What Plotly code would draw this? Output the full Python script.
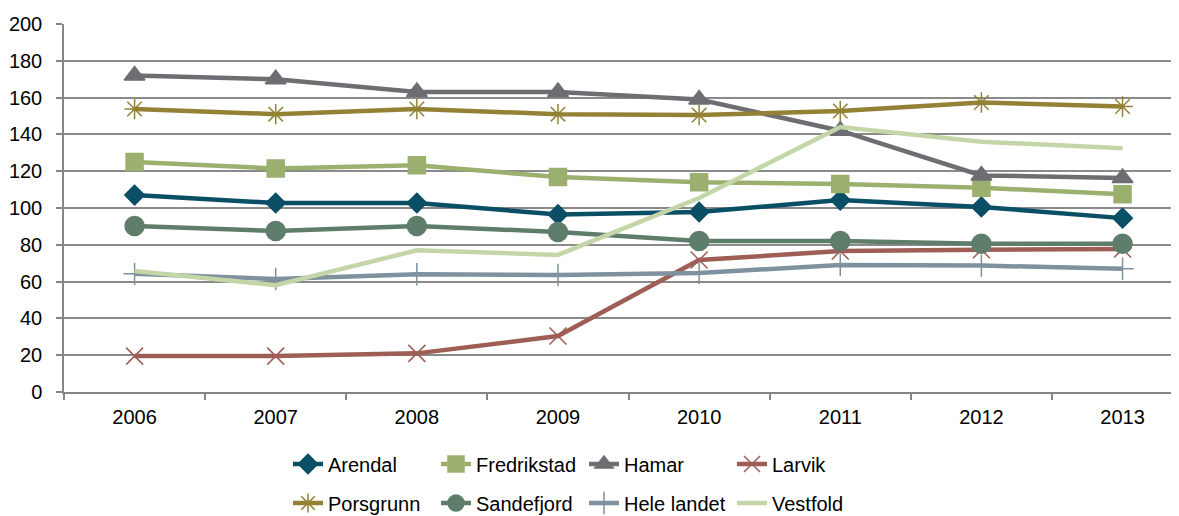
import plotly.graph_objects as go

years = ["2006", "2007", "2008", "2009", "2010", "2011", "2012", "2013"]
arendal = [107, 102.7, 102.7, 96.5, 97.8, 104.3, 100.6, 94.5]
fredrikstad = [125, 121.5, 123.2, 116.8, 114, 113, 111, 107.5]
hamar = [172, 170, 163, 163, 159, 142, 117.7, 116.3]
larvik = [19.5, 19.5, 21, 30.4, 71.7, 76.6, 77.3, 77.7]
porsgrunn = [153.8, 151, 153.8, 151, 150.5, 152.7, 157.3, 155.2]
sandefjord = [90.2, 87.5, 90.2, 87, 82, 82, 80.6, 80.6]
hele_landet = [64.2, 61.4, 64, 63.6, 64.7, 69, 68.7, 67]
vestfold = [65.8, 58, 77, 74.5, 105.4, 144, 136, 132.5]
yticks = [0, 20, 40, 60, 80, 100, 120, 140, 160, 180, 200]

series = [
    ("Arendal", arendal, "#0b4f66", "diamond", 15, "legend"),
    ("Fredrikstad", fredrikstad, "#9bb06f", "square", 17, "legend"),
    ("Hamar", hamar, "#6e6d72", "triangle-up", 18, "legend"),
    ("Larvik", larvik, "#9e5d55", "x-thin-open", 17, "legend"),
    ("Porsgrunn", porsgrunn, "#938235", "asterisk-open", 17, "legend2"),
    ("Sandefjord", sandefjord, "#5f7d6b", "circle", 19, "legend2"),
    ("Hele landet", hele_landet, "#7f919e", "cross-thin-open", 16, "legend2"),
    ("Vestfold", vestfold, "#c4d6a8", None, 0, "legend2"),
]

xs = list(range(len(years)))
fig = go.Figure()
for name, vals, color, sym, size, leg in series:
    if sym:
        fig.add_trace(go.Scatter(
            x=xs, y=vals, name=name, mode="lines+markers", legend=leg,
            line=dict(color=color, width=4.5),
            marker=dict(symbol=sym, size=size, color=color,
                        line=dict(color=color, width=1.5)),
        ))
    else:
        fig.add_trace(go.Scatter(
            x=xs, y=vals, name=name, mode="lines", legend=leg,
            line=dict(color=color, width=4.5),
        ))

W, H = 1171, 508
font = dict(family="Liberation Sans, Arial", size=20, color="#000000")
legend_common = dict(orientation="h", xref="container", yref="container",
                     xanchor="left", yanchor="middle",
                     entrywidth=103, entrywidthmode="pixels", font=font,
                     tracegroupgap=0, itemwidth=30, bgcolor="rgba(0,0,0,0)")
fig.update_layout(
    width=W, height=H,
    margin=dict(l=56, r=0, t=16, b=124, autoexpand=False),
    paper_bgcolor="white", plot_bgcolor="white",
    font=font,
    showlegend=True,
    legend=dict(x=280 / W, y=1 - 456 / H, **legend_common),
    legend2=dict(x=280 / W, y=1 - 495 / H, **legend_common),
    xaxis=dict(
        range=[-0.5, 7.4], tickvals=xs, ticktext=years, ticks="",
        showgrid=False, showline=True, linecolor="#868686", linewidth=1.5,
        zeroline=False, tickfont=font, ticklabelstandoff=6,
        minor=dict(tick0=0.5, dtick=1, ticks="outside", ticklen=6,
                   tickcolor="#868686", tickwidth=1.5, showgrid=False),
    ),
    yaxis=dict(
        range=[0, 200], tickvals=yticks, ticks="outside", ticklen=6,
        tickcolor="#868686", tickwidth=1.5,
        showgrid=True, gridcolor="#8a8a8a", gridwidth=1.5,
        showline=True, linecolor="#868686", linewidth=1.5,
        zeroline=False, tickfont=font, ticklabelstandoff=10,
    ),
)

fig.write_html("out.html")
